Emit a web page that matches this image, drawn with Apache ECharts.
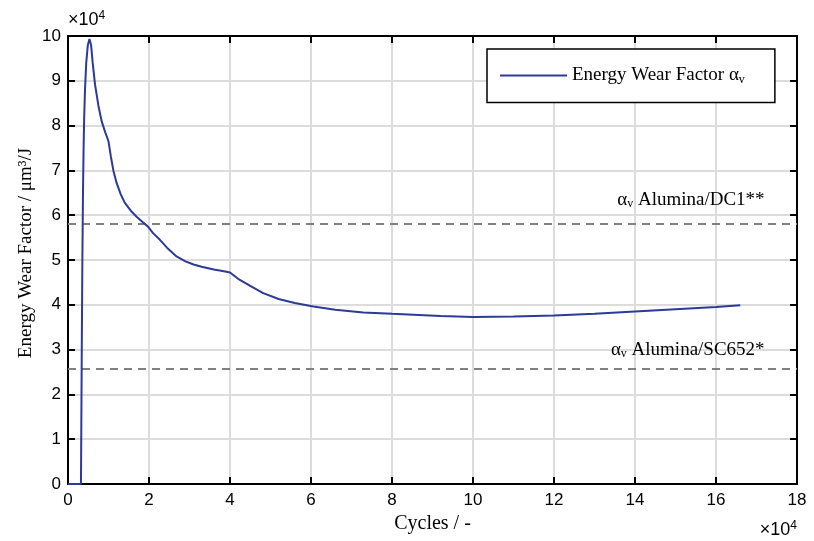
<!DOCTYPE html>
<html><head><meta charset="utf-8">
<script src="https://cdn.jsdelivr.net/npm/echarts@6/dist/echarts.min.js"></script>
<style>html,body{margin:0;padding:0;background:#fff}#c{width:814px;height:541px}</style>
</head><body><div id="c"></div>
<script>
// values in units of 1e4
const cycles = [0,0.32,0.33,0.34,0.355,0.37,0.385,0.40,0.42,0.45,0.49,0.53,0.57,0.61,0.67,0.75,0.83,0.92,1.00,1.06,1.12,1.20,1.30,1.40,1.55,1.70,1.85,1.98,2.10,2.27,2.45,2.68,2.90,3.10,3.30,3.60,3.85,4.00,4.20,4.50,4.82,5.20,5.60,6.06,6.60,7.29,8.00,8.53,9.20,10.0,11.0,12.0,13.0,14.0,15.0,16.0,16.6];
const wearFactor = [0,0,1.5,3.0,5.0,6.5,7.5,8.2,8.8,9.4,9.8,9.93,9.8,9.4,8.9,8.45,8.1,7.85,7.65,7.3,7.0,6.72,6.47,6.28,6.1,5.96,5.84,5.74,5.6,5.45,5.27,5.08,4.97,4.9,4.85,4.79,4.75,4.72,4.58,4.42,4.26,4.13,4.04,3.96,3.89,3.83,3.8,3.78,3.75,3.73,3.74,3.76,3.8,3.85,3.9,3.95,3.99];
const refValues = [5.82, 2.58];
const refNames = ['Alumina/DC1**', 'Alumina/SC652*'];
const xTicks = [0,18,2];
const yTicks = [0,10,1];

const chart = echarts.init(document.getElementById('c'));
const serif = '"Liberation Serif", "DejaVu Serif", serif';
const sans = '"Liberation Sans", Arial, sans-serif';
const gridColor = '#dcdcdc';
const axisBase = {
  axisLine:{show:true,onZero:false,lineStyle:{color:'#000',width:2}},
  axisTick:{show:true,inside:true,length:7,lineStyle:{color:'#000',width:2}},
};
const series = [{
  name:'Energy Wear Factor',
  type:'line',
  data: cycles.map((x,i)=>[x,wearFactor[i]]),
  showSymbol:false,
  smooth:false,
  lineStyle:{color:'#2c3a98',width:2},
  itemStyle:{color:'#2c3a98'},
  animation:false,
  z:5
},{
  name:'refs',
  type:'line',
  data:[],
  markLine:{
    silent:true,symbol:'none',animation:false,
    lineStyle:{color:'#808080',type:[8,6],width:2},
    label:{show:false},
    data: refValues.map(v=>({yAxis:v}))
  }
}];
chart.setOption({
  animation:false,
  grid:{left:68,right:17,top:36,bottom:57,show:false},
  legend:{
    data:[{name:'Energy Wear Factor'}],
    left:487, top:49,
    padding:[17,30,17,13],
    itemWidth:67, itemHeight:2, itemGap:8,
    icon:'rect',
    borderColor:'#000', borderWidth:1.5, backgroundColor:'#fff',
    formatter: n => n + ' {a|α}{s|v}',
    textStyle:{fontFamily:serif,fontSize:19,color:'#000',
      rich:{a:{fontFamily:serif,fontSize:19,color:'#000'},s:{fontFamily:serif,fontSize:12,color:'#000',verticalAlign:'bottom',padding:[8,0,0,0]}}}
  },
  xAxis:[{
    type:'value',min:xTicks[0],max:xTicks[1],interval:xTicks[2],position:'bottom',
    ...axisBase,
    axisLabel:{color:'#000',fontFamily:sans,fontSize:17,margin:8},
    splitLine:{show:true,lineStyle:{color:gridColor,width:2}},
    name:'Cycles / -',nameLocation:'middle',nameGap:29,
    nameTextStyle:{fontFamily:serif,fontSize:20,color:'#000'}
  },{
    type:'value',min:xTicks[0],max:xTicks[1],interval:xTicks[2],position:'top',
    ...axisBase,axisLabel:{show:false},splitLine:{show:false}
  }],
  yAxis:[{
    type:'value',min:yTicks[0],max:yTicks[1],interval:yTicks[2],position:'left',
    ...axisBase,
    axisLabel:{color:'#000',fontFamily:sans,fontSize:17,margin:7},
    splitLine:{show:true,lineStyle:{color:gridColor,width:2}},
    name:'Energy Wear Factor / μm³/J',nameLocation:'middle',nameGap:32,nameMoveOverlap:false,
    nameTextStyle:{fontFamily:serif,fontSize:19,color:'#000',padding:[0,0,0,14]}
  },{
    type:'value',min:yTicks[0],max:yTicks[1],interval:yTicks[2],position:'right',
    ...axisBase,axisLabel:{show:false},splitLine:{show:false}
  }],
  series: series
});

function refLabel(name, v, dy){
  const p = chart.convertToPixel({gridIndex:0},[17.2, v]);
  return {
    type:'text', right: 814 - p[0], top: p[1] - dy,
    style:{
      text:'{a|α}{s|v} ' + name,
      font:'19px ' + serif, fill:'#000',
      rich:{a:{font:'19px '+serif,fill:'#000'},s:{font:'12px '+serif,fill:'#000',verticalAlign:'bottom',padding:[8,0,0,0]}}
    }
  };
}
const sup = {s:{font:'12px '+sans,fill:'#000',verticalAlign:'top',padding:[0,0,9,0]}};
chart.setOption({graphic:[
  refLabel(refNames[0], refValues[0], 33),
  refLabel(refNames[1], refValues[1], 28),
  {type:'text',left:68,top:10,style:{text:'×10{s|4}',font:'18px '+sans,fill:'#000',rich:sup}},
  {type:'text',right:17,top:520,style:{text:'×10{s|4}',font:'18px '+sans,fill:'#000',rich:sup}}
]});
</script></body></html>
